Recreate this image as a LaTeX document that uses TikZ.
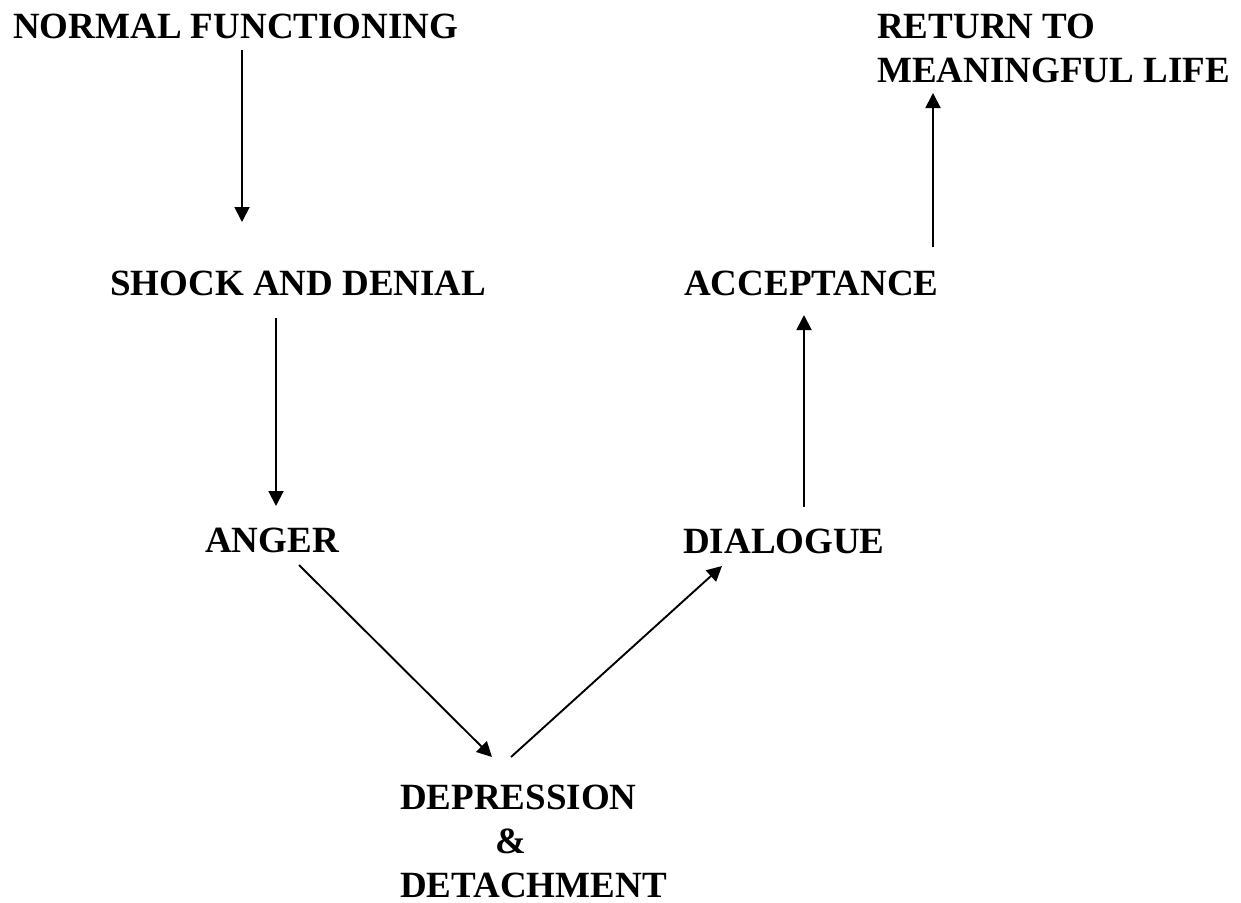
\documentclass[tikz,border=0pt]{standalone}
\usepackage{fontspec}
\setmainfont{Liberation Serif}
\usetikzlibrary{arrows.meta}

\begin{document}
\begin{tikzpicture}[x=1pt, y=-1pt,
		stage/.style={font=\fontsize{37}{44}\selectfont\bfseries, inner sep=0pt, anchor=base west, align=left},
		flow/.style={line width=1.9pt, -{Triangle[length=15pt, width=15pt]}}]
				%%%%% START %%%%%
				\useasboundingbox (0, 0) rectangle (1241, 902);
				
				\node[stage] (normal) at (13, 38) {NORMAL FUNCTIONING};
				\node[stage] (shock) at (110, 295) {SHOCK AND DENIAL};
				\node[stage] (anger) at (205, 552) {ANGER};
				\node[stage] (depress) at (400, 897) {DEPRESSION\\\hspace*{95pt}\&\\DETACHMENT};
				\node[stage] (dialogue) at (683, 553) {DIALOGUE};
				\node[stage] (accept) at (684, 295) {ACCEPTANCE};
				\node[stage] (return) at (877, 82) {RETURN TO\\MEANINGFUL LIFE};
				
				\coordinate (normal-out) at (242, 50);
				\coordinate (shock-in) at (242, 222);
				\coordinate (shock-out) at (276, 318);
				\coordinate (anger-in) at (276, 506);
				\coordinate (anger-out) at (299, 565);
				\coordinate (depress-in) at (492, 757);
				\coordinate (depress-out) at (511, 757);
				\coordinate (dialogue-in) at (722, 566);
				\coordinate (dialogue-out) at (804, 507);
				\coordinate (accept-in) at (804, 315);
				\coordinate (accept-out) at (933, 247);
				\coordinate (return-in) at (933, 93);
				
				\draw[flow] (normal-out) -- (shock-in);
				\draw[flow] (shock-out) -- (anger-in);
				\draw[flow] (anger-out) -- (depress-in);
				\draw[flow] (depress-out) -- (dialogue-in);
				\draw[flow] (dialogue-out) -- (accept-in);
				\draw[flow] (accept-out) -- (return-in);
				%%%%% END %%%%%
\end{tikzpicture}
\end{document}
